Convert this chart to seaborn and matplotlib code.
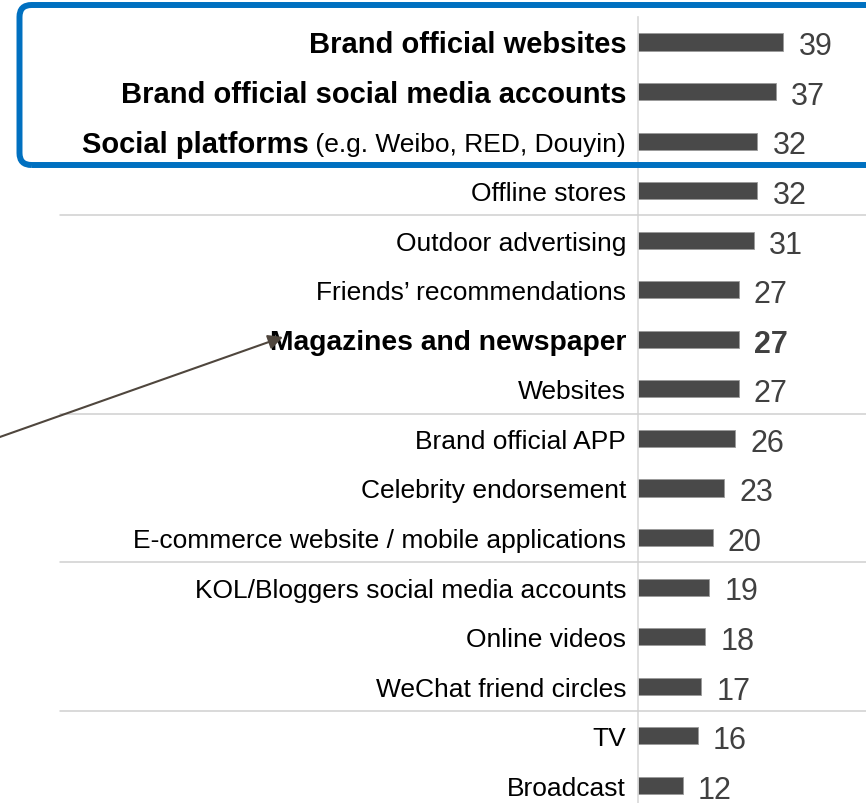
import matplotlib
matplotlib.use("Agg")
import matplotlib.pyplot as plt
import seaborn as sns
import pandas as pd
from matplotlib import transforms
from matplotlib.patches import FancyBboxPatch, FancyArrowPatch
from matplotlib.lines import Line2D

# ---- data -------------------------------------------------------------
channels = [
    "Brand official websites",
    "Brand official social media accounts",
    "Social platforms",
    "Offline stores",
    "Outdoor advertising",
    "Friends\u2019 recommendations",
    "Magazines and newspaper",
    "Websites",
    "Brand official APP",
    "Celebrity endorsement",
    "E-commerce website / mobile applications",
    "KOL/Bloggers social media accounts",
    "Online videos",
    "WeChat friend circles",
    "TV",
    "Broadcast",
]
shares = [39, 37, 32, 32, 31, 27, 27, 27, 26, 23, 20, 19, 18, 17, 16, 12]
notes = {"Social platforms": " (e.g. Weibo, RED, Douyin)"}
top_channels = ["Brand official websites", "Brand official social media accounts",
                "Social platforms"]
bold_values = ["Magazines and newspaper"]
group_breaks = [3.5, 7.5, 10.5, 13.5]

df = pd.DataFrame({"channel": channels, "share": shares})

# ---- style ------------------------------------------------------------
sns.set_theme(style="white")
plt.rcParams["font.family"] = ["Liberation Sans", "DejaVu Sans"]

W, H = 866, 804
fig = plt.figure(figsize=(W / 100, H / 100), dpi=100)
ax = fig.add_axes([638 / W, 0, (W - 638) / W, (H - 18) / H])
ax.set_facecolor("none")

sns.barplot(data=df, x="share", y="channel", orient="h", color="#494949",
            saturation=1, width=0.345, edgecolor="#9a9a9a", linewidth=0.6, ax=ax)

ax.set_xlim(0, (W - 638) / 3.73)
ax.set_ylim(15.358, -0.505)
ax.set_xticks([])
ax.set_yticks([])
ax.set_xlabel("")
ax.set_ylabel("")
for side in ["top", "right", "bottom"]:
    ax.spines[side].set_visible(False)
ax.spines["left"].set_color("#d9d9d9")
ax.spines["left"].set_linewidth(1.2)

# ---- category labels ---------------------------------------------------
NORMAL = 19
LABEL_DX = -8.5
fig.canvas.draw()
renderer = fig.canvas.get_renderer()
for i, name in enumerate(channels):
    if name in top_channels:
        size, weight = 21, "bold"
    elif name in bold_values:
        size, weight = 20.3, "bold"
    else:
        size, weight = NORMAL, "normal"
    dx = LABEL_DX
    if name in notes:
        t = ax.annotate(notes[name], xy=(0, i), xytext=(dx, -0.358 * NORMAL),
                        textcoords="offset points", ha="right", va="baseline",
                        fontsize=NORMAL, color="black")
        w_px = t.get_window_extent(renderer).width
        dx -= w_px * 72 / fig.dpi
    ax.annotate(name, xy=(0, i), xytext=(dx, -0.358 * size),
                textcoords="offset points", ha="right", va="baseline",
                fontsize=size, color="black", fontweight=weight)

# ---- value labels ------------------------------------------------------
for i, (name, v) in enumerate(zip(channels, shares)):
    ax.annotate(f"{v}", xy=(v, i), xytext=(11, -8.9),
                textcoords="offset points", ha="left", va="baseline",
                fontsize=22, color="#404040",
                fontweight="bold" if name in bold_values else "normal")

# ---- group separators --------------------------------------------------
sep_tr = transforms.blended_transform_factory(fig.transFigure, ax.transData)
for yb in group_breaks:
    fig.add_artist(Line2D([60 / W, 1], [yb, yb], transform=sep_tr,
                          color="#d0d0d0", linewidth=1.1, zorder=0.5))

# ---- highlight frame around the top three channels ---------------------
px = transforms.IdentityTransform()
frame = FancyBboxPatch((19.5, H - 166), 900, 160,
                       boxstyle="round,pad=0,rounding_size=12",
                       transform=px, facecolor="none", edgecolor="#0070C0",
                       linewidth=4.3, zorder=5)
fig.add_artist(frame)

# ---- pointer to the magazines row --------------------------------------
arrow = FancyArrowPatch((-20, H - 445), (283, H - 338), transform=px,
                        arrowstyle="-|>", mutation_scale=22,
                        color="#4f463d", linewidth=1.5,
                        shrinkA=0, shrinkB=0, zorder=6)
fig.add_artist(arrow)

fig.savefig("out.png", dpi=100)
